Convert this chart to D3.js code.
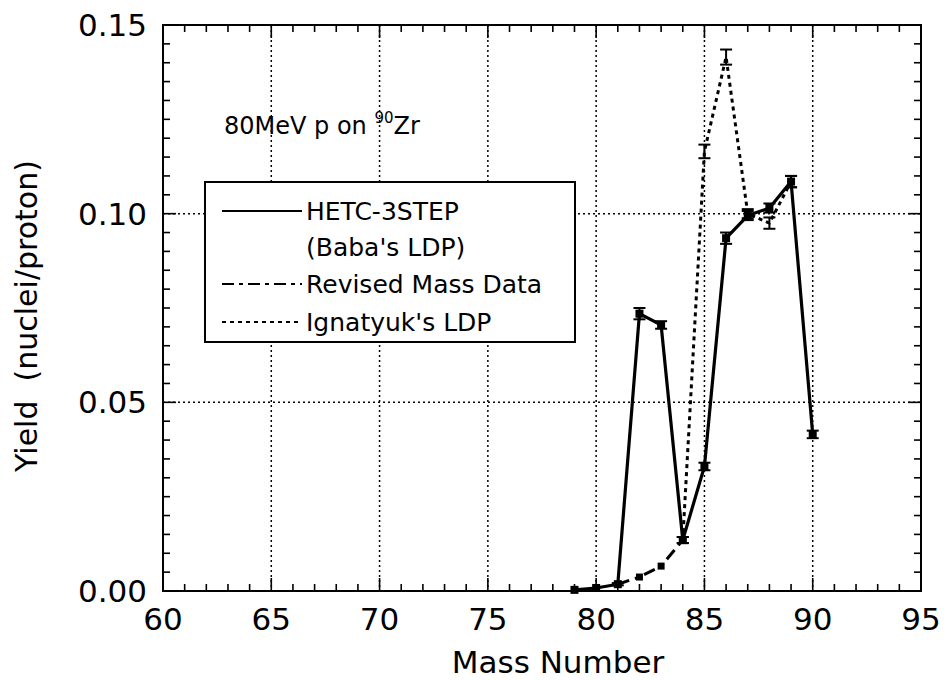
<!DOCTYPE html>
<html>
<head>
<meta charset="utf-8">
<script src="https://cdn.jsdelivr.net/npm/d3@7"></script>
<style>
  html, body { margin: 0; padding: 0; background: #fff; }
  svg { display: block; font-family: "DejaVu Sans", sans-serif; }
</style>
</head>
<body>
<svg id="chart" width="948" height="680"></svg>
<script>
// Isotope yields for 80 MeV protons on 90Zr
const hetcMass   = [79, 80, 81, 82, 83, 84, 85, 86, 87, 88, 89, 90];
const hetcYield  = [0.0003, 0.0008, 0.0018, 0.0735, 0.0705, 0.0135, 0.0330, 0.0935, 0.0995, 0.1015, 0.1085, 0.0415];
const hetcErr    = [0, 0, 0.0003, 0.0015, 0.0010, 0.0008, 0.0010, 0.0015, 0.0012, 0.0012, 0.0015, 0.0010];

const revisedMass  = [81, 82, 83, 84];
const revisedYield = [0.0018, 0.0037, 0.0066, 0.0135];

const ignatyukMass  = [84, 85, 86, 87, 88, 89];
const ignatyukYield = [0.0135, 0.1165, 0.1415, 0.1000, 0.0975, 0.1085];
const ignatyukErr   = [0.0008, 0.0018, 0.0020, 0.0012, 0.0015, 0.0015];

const xTicks = [60, 65, 70, 75, 80, 85, 90, 95];
const yTicks = [0.00, 0.05, 0.10, 0.15];

const legendItems = [
  { label: ["HETC-3STEP", "(Baba's LDP)"], dash: null },
  { label: ["Revised Mass Data"], dash: "12,5,4,5" },
  { label: ["Ignatyuk's LDP"], dash: "4,4" }
];

const svg = d3.select("#chart");
const pLeft = 163, pRight = 921, pTop = 25, pBottom = 591;

const x = d3.scaleLinear().domain([60, 95]).range([pLeft, pRight]);
const y = d3.scaleLinear().domain([0, 0.15]).range([pBottom, pTop]);

// Dotted grid at labelled ticks
const grid = svg.append("g").attr("stroke", "#000").attr("stroke-width", 1.5)
  .attr("stroke-dasharray", "2,3");
grid.selectAll(".gx").data(xTicks.slice(1, -1)).join("line")
  .attr("x1", d => x(d)).attr("x2", d => x(d)).attr("y1", pTop).attr("y2", pBottom);
grid.selectAll(".gy").data(yTicks.slice(1, -1)).join("line")
  .attr("y1", d => y(d)).attr("y2", d => y(d)).attr("x1", pLeft).attr("x2", pRight);

// Inward ticks on all four sides
const ticks = svg.append("g").attr("stroke", "#000").attr("stroke-width", 1.6);
const xMinor = d3.range(61, 95);
const yMinor = d3.range(1, 30).map(i => i * 0.005);
function tickLen(isMajor) { return isMajor ? 13 : 7; }
xMinor.forEach(v => {
  const major = v % 5 === 0;
  ticks.append("line").attr("x1", x(v)).attr("x2", x(v)).attr("y1", pBottom).attr("y2", pBottom - tickLen(major));
  ticks.append("line").attr("x1", x(v)).attr("x2", x(v)).attr("y1", pTop).attr("y2", pTop + tickLen(major));
});
yMinor.forEach((v, i) => {
  const major = (i + 1) % 10 === 0;
  ticks.append("line").attr("y1", y(v)).attr("y2", y(v)).attr("x1", pLeft).attr("x2", pLeft + tickLen(major));
  ticks.append("line").attr("y1", y(v)).attr("y2", y(v)).attr("x1", pRight).attr("x2", pRight - tickLen(major));
});

// Frame
svg.append("rect").attr("x", pLeft).attr("y", pTop).attr("width", pRight - pLeft).attr("height", pBottom - pTop)
  .attr("fill", "none").attr("stroke", "#000").attr("stroke-width", 2);

// Tick labels
svg.append("g").selectAll("text").data(xTicks).join("text")
  .attr("x", d => x(d)).attr("y", 630)
  .attr("text-anchor", "middle").attr("font-size", 31)
  .text(d => d);
svg.append("g").selectAll("text").data(yTicks).join("text")
  .attr("x", 147).attr("y", d => y(d)).attr("dy", "0.36em")
  .attr("text-anchor", "end").attr("font-size", 31)
  .text(d => d3.format(".2f")(d));

// Axis titles
svg.append("text").attr("x", 558).attr("y", 673)
  .attr("text-anchor", "middle").attr("font-size", 31).text("Mass Number");
svg.append("text").attr("transform", `translate(37,${(pTop + pBottom) / 2 + 8}) rotate(-90)`)
  .attr("text-anchor", "middle").attr("font-size", 30)
  .attr("xml:space", "preserve").text("Yield  (nuclei/proton)");

// Reaction annotation
const ann = svg.append("text").attr("x", 224).attr("y", 134).attr("font-size", 24);
ann.append("tspan").text("80MeV p on ");
ann.append("tspan").attr("font-size", 15).attr("dy", -11).text("90");
ann.append("tspan").attr("dy", 11).text("Zr");

// Series
const line = d3.line().x(d => x(d[0])).y(d => y(d[1]));
const plot = svg.append("g");

function errorBars(mass, vals, errs, g) {
  mass.forEach((m, i) => {
    const e = errs[i];
    if (!e) return;
    const cx = x(m), y1 = y(vals[i] + e), y2 = y(vals[i] - e);
    g.append("line").attr("x1", cx).attr("x2", cx).attr("y1", y1).attr("y2", y2);
    g.append("line").attr("x1", cx - 6).attr("x2", cx + 6).attr("y1", y1).attr("y2", y1);
    g.append("line").attr("x1", cx - 6).attr("x2", cx + 6).attr("y1", y2).attr("y2", y2);
  });
}

// Ignatyuk's LDP (dotted)
plot.append("path").datum(ignatyukMass.map((m, i) => [m, ignatyukYield[i]]))
  .attr("d", line).attr("fill", "none").attr("stroke", "#000")
  .attr("stroke-width", 3).attr("stroke-dasharray", "4,4");
errorBars(ignatyukMass, ignatyukYield, ignatyukErr,
  plot.append("g").attr("stroke", "#000").attr("stroke-width", 2));

// Revised mass data (dash-dot)
plot.append("path").datum(revisedMass.map((m, i) => [m, revisedYield[i]]))
  .attr("d", line).attr("fill", "none").attr("stroke", "#000")
  .attr("stroke-width", 3).attr("stroke-dasharray", "12,6,4,6");
plot.append("g").selectAll("rect").data(revisedMass).join("rect")
  .attr("x", d => x(d) - 3.5).attr("y", (d, i) => y(revisedYield[i]) - 3.5)
  .attr("width", 7).attr("height", 7).attr("fill", "#000");

// HETC-3STEP (solid)
plot.append("path").datum(hetcMass.map((m, i) => [m, hetcYield[i]]))
  .attr("d", line).attr("fill", "none").attr("stroke", "#000")
  .attr("stroke-width", 3.2).attr("stroke-linejoin", "round");
plot.append("g").selectAll("rect").data(hetcMass).join("rect")
  .attr("x", d => x(d) - 4).attr("y", (d, i) => y(hetcYield[i]) - 4)
  .attr("width", 8).attr("height", 8).attr("fill", "#000");
errorBars(hetcMass, hetcYield, hetcErr,
  plot.append("g").attr("stroke", "#000").attr("stroke-width", 2));

// Legend
const lg = svg.append("g");
lg.append("rect").attr("x", 205).attr("y", 182).attr("width", 370).attr("height", 160)
  .attr("fill", "#fff").attr("stroke", "#000").attr("stroke-width", 2);
const rowY = [211, 284, 322];
legendItems.forEach((item, i) => {
  const ly = rowY[i];
  lg.append("line").attr("x1", 222).attr("x2", 302).attr("y1", ly).attr("y2", ly)
    .attr("stroke", "#000").attr("stroke-width", 2.2)
    .attr("stroke-dasharray", item.dash);
  item.label.forEach((t, j) => {
    lg.append("text").attr("x", 306).attr("y", ly + j * 36).attr("dy", "0.36em")
      .attr("font-size", 25).attr("xml:space", "preserve").text(t);
  });
});
</script>
</body>
</html>
